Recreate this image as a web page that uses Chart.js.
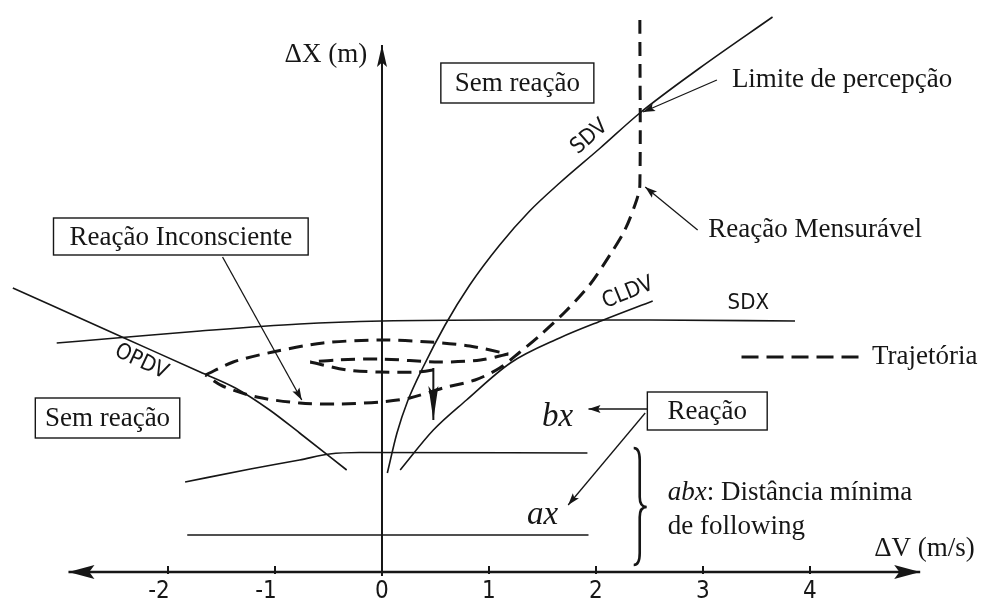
<!DOCTYPE html>
<html>
<head>
<meta charset="utf-8">
<script src="https://cdn.jsdelivr.net/npm/chart.js@4.4.1/dist/chart.umd.min.js"></script>
<style>
  html, body { margin: 0; padding: 0; background: #fff; }
  #wrap { width: 989px; height: 605px; }
</style>
</head>
<body>
<div id="wrap"><canvas id="chart" width="989" height="605"></canvas></div>
<script>
// Values: x = ΔV (m/s), y = ΔX (relative units)
const xTicks = [-2, -1, 0, 1, 2, 3, 4];

const sdx  = [[-3.04, 22.9], [-2.43, 23.45], [-1.70, 24.1], [-0.77, 24.8], [0, 25.1], [1.10, 25.2], [2.50, 25.2], [3.86, 25.1]];
const opdv = [[-3.45, 28.4], [-2.43, 23.5], [-1.70, 20.0], [-1.37, 18.4], [-1.05, 16.2], [-0.77, 13.9], [-0.33, 10.2]];
const sdv  = [[0.05, 9.9], [0.14, 13.9], [0.24, 17.1], [0.38, 20.4], [0.59, 24.7], [0.82, 28.7], [1.10, 32.7], [1.38, 36.1],
              [1.66, 38.9], [2.04, 42.4], [2.41, 45.9], [2.97, 50.4], [3.65, 55.5]];
const cldv = [[0.17, 10.2], [0.48, 14.2], [0.79, 17.2], [1.20, 20.9], [1.66, 23.4], [2.07, 25.2], [2.53, 27.1]];
const bx   = [[-1.84, 9.0], [-1.23, 10.3], [-0.77, 11.2], [-0.49, 11.8], [-0.21, 11.95], [1.92, 11.9]];
const ax   = [[-1.82, 3.7], [1.93, 3.7]];

// trajectory, split at its turning points
const trajDescent = [[2.41, 55.2], [2.41, 38.7], [2.38, 37.2], [2.27, 34.2], [2.13, 31.7], [1.94, 28.7], [1.71, 26.0], [1.48, 23.7], [1.29, 22.0], [1.10, 20.4],
                     [0.87, 19.2], [0.57, 18.4], [0.26, 17.4], [-0.02, 17.0], [-0.39, 16.8], [-0.77, 16.9], [-1.17, 17.5], [-1.49, 18.6], [-1.65, 19.7]];
const trajOuterUp = [[-1.65, 19.7], [-1.39, 21.0], [-1.02, 22.0], [-0.55, 22.9], [-0.02, 23.2], [0.45, 23.0], [0.82, 22.6], [1.18, 21.8]];
const trajInnerUp = [[1.18, 21.8], [0.92, 21.2], [0.54, 21.0], [-0.02, 21.3], [-0.42, 21.2], [-0.67, 21.0]];
const trajInnerLo = [[-0.67, 21.0], [-0.33, 20.2], [-0.02, 20.0], [0.33, 20.0], [0.48, 20.2]];
const trajStop    = [[0.48, 20.4], [0.48, 15.2]];

// axes and pointer lines
const xAxisLine = [[-2.93, 0], [5.03, 0]];
const yAxisLine = [[0, -0.4], [0, 52.7]];
const ptrInconsciente = [[-1.49, 31.5], [-0.75, 17.2]];
const ptrLimite       = [[3.13, 49.2], [2.44, 46.0]];
const ptrMensuravel   = [[2.95, 34.2], [2.46, 38.5]];
const ptrBx           = [[2.49, 16.3], [1.93, 16.3]];
const ptrAx           = [[2.46, 15.9], [1.74, 6.7]];

const INK = '#161616';
const SERIF = '"Liberation Serif", "Times New Roman", serif';
const SANS = '"DejaVu Sans Condensed", "DejaVu Sans", sans-serif';

function pts(arr) { return arr.map(p => ({ x: p[0], y: p[1] })); }

function curve(arr, extra) {
    return Object.assign({ data: pts(arr), showLine: true, borderColor: INK, borderWidth: 1.6, tension: 0, pointRadius: 0 }, extra || {});
}

const smooth = { cubicInterpolationMode: 'monotone', tension: 0.4 };
const dash = { borderDash: [14, 8], borderWidth: 3, tension: 0.3 };
const ptr = { borderWidth: 1.3, arrowEnd: { len: 12, half: 4 } };

const datasets = [
    curve(xAxisLine, { borderWidth: 2.4, arrowEnd: { len: 26, half: 7 }, arrowStart: { len: 26, half: 7 } }),
    curve(yAxisLine, { borderWidth: 2, arrowEnd: { len: 22, half: 5 } }),
    curve(sdx, smooth), curve(opdv, smooth), curve(sdv, smooth), curve(cldv, smooth), curve(bx, smooth), curve(ax),
    curve(trajDescent, dash), curve(trajOuterUp, dash), curve(trajInnerUp, dash), curve(trajInnerLo, dash),
    curve(trajStop, { borderWidth: 2, arrowEnd: { len: 34, half: 5 } }),
    curve(ptrInconsciente, ptr), curve(ptrLimite, ptr), curve(ptrMensuravel, ptr), curve(ptrBx, ptr), curve(ptrAx, ptr)
];

// boxed labels: [text, x0, y0, x1, y1] in data units
const boxes = [
    ['Sem reação', 0.55, 50.9, 1.98, 46.9],
    ['Reação Inconsciente', -3.07, 35.4, -0.69, 31.7],
    ['Sem reação', -3.24, 17.4, -1.89, 13.4],
    ['Reação', 2.48, 18.0, 3.60, 14.2]
];

// free text: [text, x, y, font, align]
const texts = [
    ['ΔX (m)', -0.91, 51.7, '27px ' + SERIF, 'left'],
    ['Limite de percepção', 3.27, 49.2, '27px ' + SERIF, 'left'],
    ['Reação Mensurável', 3.05, 34.2, '27px ' + SERIF, 'left'],
    ['Trajetória', 4.58, 21.5, '27px ' + SERIF, 'left'],
    ['ΔV (m/s)', 4.60, 2.3, '27px ' + SERIF, 'left'],
    ['de following', 2.67, 4.5, '27px ' + SERIF, 'left'],
    ['bx', 1.64, 15.5, 'italic 33px ' + SERIF, 'center'],
    ['ax', 1.50, 5.7, 'italic 33px ' + SERIF, 'center'],
    ['SDX', 3.23, 26.9, '22px ' + SANS, 'left']
];

// curve names written along the curves: [text, x, y, angle in degrees]
const curveNames = [
    ['SDV', 1.94, 43.5, -41],
    ['CLDV', 2.30, 27.9, -22],
    ['OPDV', -2.25, 21.0, 25]
];

function drawHead(ctx, a, b, o) {
    const ang = Math.atan2(b.y - a.y, b.x - a.x);
    ctx.save();
    ctx.translate(b.x, b.y);
    ctx.rotate(ang);
    ctx.beginPath();
    ctx.moveTo(0, 0);
    ctx.lineTo(-o.len, -o.half);
    ctx.lineTo(-o.len * 0.8, 0);
    ctx.lineTo(-o.len, o.half);
    ctx.closePath();
    ctx.fillStyle = INK;
    ctx.fill();
    ctx.restore();
}

const arrowPlugin = {
    id: 'arrows',
    afterDatasetsDraw(chart) {
        const ctx = chart.ctx;
        chart.data.datasets.forEach((ds, i) => {
            const el = chart.getDatasetMeta(i).data;
            if (ds.arrowEnd) drawHead(ctx, el[el.length - 2], el[el.length - 1], ds.arrowEnd);
            if (ds.arrowStart) drawHead(ctx, el[1], el[0], ds.arrowStart);
        });
    }
};

const labelPlugin = {
    id: 'labels',
    afterDraw(chart) {
        const ctx = chart.ctx;
        const sx = v => chart.scales.x.getPixelForValue(v);
        const sy = v => chart.scales.y.getPixelForValue(v);
        ctx.save();
        ctx.fillStyle = INK;
        ctx.strokeStyle = INK;

        // ticks and tick labels
        ctx.lineWidth = 2;
        ctx.font = '24px ' + SANS;
        ctx.textAlign = 'center';
        ctx.textBaseline = 'middle';
        xTicks.forEach(t => {
            const x = sx(t);
            ctx.beginPath();
            ctx.moveTo(x, sy(0) - 6);
            ctx.lineTo(x, sy(0) + 2);
            ctx.stroke();
            const s = t < 0 ? '-' + Math.abs(t) : String(t);
            ctx.fillText(s, x - (t < 0 ? 9 : 0), sy(0) + 20);
        });

        // boxes
        ctx.font = '27px ' + SERIF;
        ctx.lineWidth = 1.4;
        boxes.forEach(b => {
            const x0 = sx(b[1]), y0 = sy(b[2]), x1 = sx(b[3]), y1 = sy(b[4]);
            ctx.fillStyle = '#fff';
            ctx.fillRect(x0, y0, x1 - x0, y1 - y0);
            ctx.strokeRect(x0, y0, x1 - x0, y1 - y0);
            ctx.fillStyle = INK;
            ctx.textAlign = 'center';
            ctx.fillText(b[0], (x0 + x1) / 2, (y0 + y1) / 2 + 1);
        });

        // free text
        texts.forEach(t => {
            ctx.font = t[3];
            ctx.textAlign = t[4];
            ctx.fillText(t[0], sx(t[1]), sy(t[2]));
        });

        // abx line with mixed style
        ctx.textAlign = 'left';
        let x = sx(2.67), y = sy(7.9);
        ctx.font = 'italic 27px ' + SERIF;
        ctx.fillText('abx', x, y);
        x += ctx.measureText('abx').width;
        ctx.font = '27px ' + SERIF;
        ctx.fillText(': Distância mínima', x, y);

        // rotated curve names
        ctx.font = '22px ' + SANS;
        ctx.textAlign = 'center';
        curveNames.forEach(c => {
            ctx.save();
            ctx.translate(sx(c[1]), sy(c[2]));
            ctx.rotate(c[3] * Math.PI / 180);
            ctx.fillText(c[0], 0, 0);
            ctx.restore();
        });

        // legend sample for the trajectory
        ctx.lineWidth = 3;
        ctx.setLineDash([17, 8]);
        ctx.beginPath();
        ctx.moveTo(sx(3.36), sy(21.5));
        ctx.lineTo(sx(4.49), sy(21.5));
        ctx.stroke();
        ctx.setLineDash([]);

        // brace for abx
        const bxp = sx(2.39), top = sy(12.4), bot = sy(0.7), mid = sy(6.5);
        ctx.lineWidth = 2.6;
        ctx.beginPath();
        ctx.moveTo(bxp - 4, top);
        ctx.quadraticCurveTo(bxp + 2, top, bxp + 2, top + 12);
        ctx.lineTo(bxp + 2, mid - 10);
        ctx.quadraticCurveTo(bxp + 2, mid, bxp + 9, mid);
        ctx.quadraticCurveTo(bxp + 2, mid, bxp + 2, mid + 10);
        ctx.lineTo(bxp + 2, bot - 12);
        ctx.quadraticCurveTo(bxp + 2, bot, bxp - 4, bot);
        ctx.stroke();

        ctx.restore();
    }
};

new Chart(document.getElementById('chart'), {
    type: 'scatter',
    data: { datasets: datasets },
    options: {
        responsive: false,
        animation: false,
        layout: { padding: 0 },
        plugins: { legend: { display: false }, tooltip: { enabled: false } },
        scales: {
            x: { type: 'linear', min: -3.57, max: 5.673, display: false },
            y: { type: 'linear', min: -3.3, max: 57.2, display: false }
        }
    },
    plugins: [arrowPlugin, labelPlugin]
});
</script>
</body>
</html>
